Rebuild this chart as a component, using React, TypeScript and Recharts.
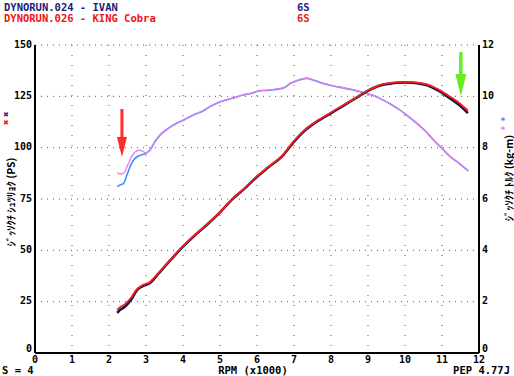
import React from "react";
import { ComposedChart, Line, XAxis, YAxis, CartesianGrid, ReferenceDot } from "recharts";

const rpmPower = [2.22, 2.3, 2.43, 2.6, 2.75, 2.9, 3.1, 3.33, 3.6, 4.0, 4.3, 4.64, 5.0, 5.36, 5.65, 5.95, 6.3, 6.71, 6.98, 7.3, 7.6, 7.97, 8.25, 8.51, 8.75, 8.96, 9.2, 9.41, 9.6, 9.8, 10.0, 10.2, 10.4, 10.6, 10.8, 10.95, 11.1, 11.3, 11.5, 11.7];
const powerIvan = [19.5, 21, 22.5, 26, 30.5, 32.5, 34, 38.5, 44, 51.8, 57, 62.3, 68.5, 75.3, 79.8, 85, 90.3, 96.4, 102.5, 108.5, 112.5, 116.5, 119.5, 122.4, 125, 127.3, 129.4, 130.6, 131.2, 131.6, 131.8, 131.6, 131.2, 130.4, 128.8, 127.3, 125.5, 123, 120.3, 116.8];
const powerCobra = [21, 22.3, 23.8, 27, 31, 33, 34.5, 38.8, 44.2, 52, 57.2, 62.5, 68.6, 75.5, 80, 85.2, 90.5, 96.6, 102.8, 108.8, 112.7, 116.8, 119.8, 122.6, 125.2, 127.5, 129.6, 130.9, 131.5, 131.9, 132, 131.9, 131.5, 130.8, 129.3, 127.9, 126.2, 123.9, 121.3, 118];

const rpmTorque = [2.22, 2.3, 2.39, 2.5, 2.61, 2.72, 2.84, 3.0, 3.11, 3.25, 3.38, 3.6, 3.83, 4.05, 4.28, 4.5, 4.73, 4.95, 5.18, 5.4, 5.63, 5.85, 6.08, 6.3, 6.5, 6.71, 6.9, 7.1, 7.34, 7.55, 7.79, 8.06, 8.33, 8.6, 8.87, 9.1, 9.32, 9.6, 9.86, 10.1, 10.32, 10.55, 10.77, 11.0, 11.22, 11.45, 11.71];
const torqueIvan = [6.48, 6.55, 6.6, 7.0, 7.39, 7.6, 7.7, 7.78, 7.91, 8.25, 8.49, 8.75, 8.95, 9.1, 9.27, 9.4, 9.6, 9.75, 9.86, 9.95, 10.05, 10.12, 10.22, 10.23, 10.27, 10.32, 10.5, 10.62, 10.7, 10.62, 10.5, 10.4, 10.33, 10.25, 10.15, 10.05, 9.92, 9.7, 9.47, 9.2, 8.95, 8.65, 8.3, 7.97, 7.65, 7.4, 7.1];
const torqueCobra = [7.02, 6.98, 7.0, 7.3, 7.65, 7.85, 7.9, 7.8, 7.93, 8.27, 8.5, 8.76, 8.96, 9.11, 9.28, 9.41, 9.61, 9.76, 9.87, 9.96, 10.06, 10.13, 10.23, 10.24, 10.28, 10.33, 10.51, 10.63, 10.71, 10.63, 10.51, 10.41, 10.34, 10.26, 10.16, 10.06, 9.93, 9.71, 9.48, 9.21, 8.96, 8.66, 8.31, 7.98, 7.66, 7.41, 7.11];

const rpmTicks = [0, 1, 2, 3, 4, 5, 6, 7, 8, 9, 10, 11, 12];
const psTicks = [0, 25, 50, 75, 100, 125, 150];
const kgmTicks = [0, 2, 4, 6, 8, 10, 12];

const redArrowTip = { rpm: 2.35, ps: 95.5 };
const greenArrowTip = { rpm: 11.51, ps: 125.2 };

const build = (xs: number[], ys: number[]) => xs.map((x, i) => ({ rpm: x, v: ys[i] }));

const tickFont = { fontFamily: "DejaVu Sans Mono", fontWeight: 700, fontSize: 10, fill: "#000" };

const LeftTick = (p: any) => (
  <text x={p.x} y={p.y + (p.payload.value === 0 ? -5 : -1)} textAnchor="end" dominantBaseline="central" {...tickFont}>
    {p.payload.value}
  </text>
);
const RightTick = (p: any) => (
  <text x={p.x} y={p.y + (p.payload.value === 0 ? -5 : -1)} textAnchor="start" dominantBaseline="central" {...tickFont}>
    {p.payload.value}
  </text>
);
const BottomTick = (p: any) => (
  <text x={p.x} y={p.y} dy="0.71em" textAnchor="middle" {...tickFont}>
    {p.payload.value}
  </text>
);

const makeArrow = (color: string, head: number, headW: number, shaft: number, shaftW: number) => (p: any) => {
  const { cx, cy } = p;
  const pts = [
    [cx, cy],
    [cx - headW / 2, cy - head],
    [cx - shaftW / 2, cy - head],
    [cx - shaftW / 2, cy - head - shaft],
    [cx + shaftW / 2, cy - head - shaft],
    [cx + shaftW / 2, cy - head],
    [cx + headW / 2, cy - head],
  ]
    .map((q) => q.join(","))
    .join(" ");
  return <polygon points={pts} fill={color} />;
};

export default function App() {
  const mono = { fontFamily: "DejaVu Sans Mono", fontWeight: 700, fontSize: 10.5 };
  const jp = { fontFamily: "Noto Sans CJK JP", fontWeight: 700, fontSize: 10.5, fill: "#000" };
  return (
    <div style={{ position: "absolute", left: 0, top: 0, width: 514, height: 376, background: "#fff" }}>
      <ComposedChart width={514} height={376} margin={{ top: 45, right: 0, bottom: 0, left: 0 }}>
        <CartesianGrid yAxisId="left" vertical={false} stroke="#555" strokeDasharray="1 5" />
        <CartesianGrid yAxisId="left" horizontal={false} stroke="#555" strokeDasharray="1 9" />
        <XAxis
          dataKey="rpm"
          type="number"
          domain={[0, 12]}
          ticks={rpmTicks}
          height={23}
          tickLine={false}
          tickSize={0}
          tickMargin={3}
          axisLine={{ stroke: "#000", strokeWidth: 2 }}
          tick={BottomTick}
          allowDuplicatedCategory={false}
        />
        <YAxis
          yAxisId="left"
          type="number"
          domain={[0, 150]}
          ticks={psTicks}
          width={35}
          tickLine={false}
          tickSize={0}
          tickMargin={3}
          axisLine={{ stroke: "#000", strokeWidth: 2 }}
          tick={LeftTick}
        />
        <YAxis
          yAxisId="right"
          orientation="right"
          type="number"
          domain={[0, 12]}
          ticks={kgmTicks}
          width={35}
          tickLine={false}
          tickSize={0}
          tickMargin={3}
          axisLine={{ stroke: "#000", strokeWidth: 2 }}
          tick={RightTick}
        />
        <Line yAxisId="right" data={build(rpmTorque, torqueIvan)} dataKey="v" type="monotone" stroke="#3f8cff" strokeWidth={1.6} dot={false} isAnimationActive={false} />
        <Line yAxisId="right" data={build(rpmTorque, torqueCobra)} dataKey="v" type="monotone" stroke="#e57ee8" strokeWidth={1.3} dot={false} isAnimationActive={false} />
        <Line yAxisId="left" data={build(rpmPower, powerIvan)} dataKey="v" type="monotone" stroke="#14144a" strokeWidth={2.6} dot={false} isAnimationActive={false} />
        <Line yAxisId="left" data={build(rpmPower, powerCobra)} dataKey="v" type="monotone" stroke="#ff1a1a" strokeWidth={1.8} dot={false} isAnimationActive={false} />
        <ReferenceDot yAxisId="left" x={redArrowTip.rpm} y={redArrowTip.ps} r={1} shape={makeArrow("#ff2a2a", 20, 10, 28, 3)} />
        <ReferenceDot yAxisId="left" x={greenArrowTip.rpm} y={greenArrowTip.ps} r={1} shape={makeArrow("#66ee22", 22, 11, 22, 3.5)} />
      </ComposedChart>
      <svg width={514} height={376} style={{ position: "absolute", left: 0, top: 0, pointerEvents: "none" }}>
        <text x={4} y={11} {...mono} fill="#1c1c78">DYNORUN.024 - IVAN</text>
        <text x={4} y={22} {...mono} fill="#f01414">DYNORUN.026 - KING Cobra</text>
        <text x={297} y={11} {...mono} fill="#1c1c78">6S</text>
        <text x={297} y={22} {...mono} fill="#f01414">6S</text>
        <text x={2} y={374} {...mono} fill="#000">S = 4</text>
        <text x={253} y={374} textAnchor="middle" {...mono} fill="#000">RPM (x1000)</text>
        <text x={510} y={374} textAnchor="end" {...mono} fill="#000">PEP 4.77J</text>
        <text transform="translate(10,202) rotate(-90)" textAnchor="middle" dominantBaseline="central" {...jp}>ｼﾞｯｿｸﾁ ｼｭﾂﾘｮｸ (PS)</text>
        <text transform="translate(508,178) rotate(-90)" textAnchor="middle" dominantBaseline="central" {...jp}>ｼﾞｯｿｸﾁ ﾄﾙｸ (kg-m)</text>
        <text x={6} y={117} textAnchor="middle" fontFamily="DejaVu Sans" fontSize={7} fill="#2a2a90">✖</text>
        <text x={6} y={125} textAnchor="middle" fontFamily="DejaVu Sans" fontSize={7} fill="#f01414">✖</text>
        <text x={503} y={124} textAnchor="middle" fontFamily="DejaVu Sans Mono" fontWeight={700} fontSize={9} fill="#3f8cff">*</text>
        <text x={503} y={133} textAnchor="middle" fontFamily="DejaVu Sans Mono" fontWeight={700} fontSize={9} fill="#e57ee8">*</text>
      </svg>
    </div>
  );
}
